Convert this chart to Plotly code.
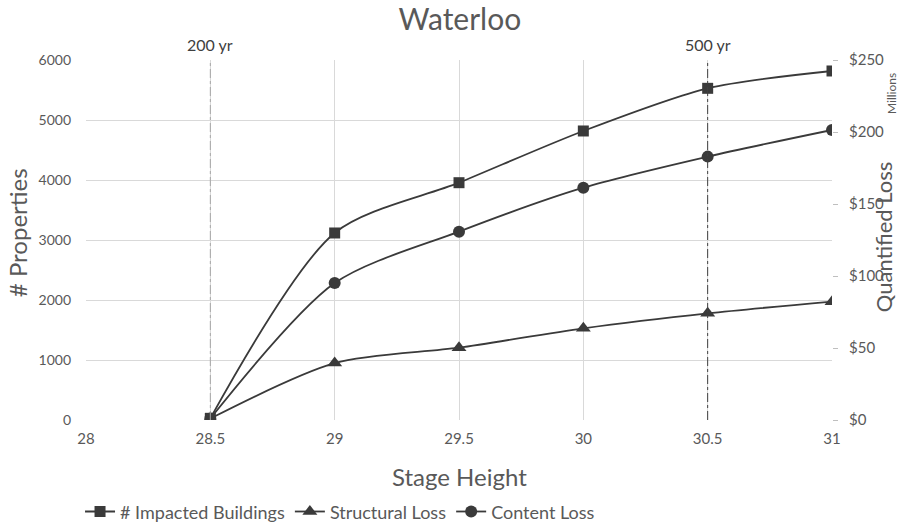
import plotly.graph_objects as go

# Stage height (ft) and modelled impacts
stage = [28.5, 29, 29.5, 30, 30.5, 31]
impacted_buildings = [28, 3117, 3955, 4817, 5528, 5817]
structural_loss = [1, 39.5, 50.2, 63.7, 74.1, 82.2]   # $ millions
content_loss = [1, 95.1, 130.8, 161.3, 182.9, 201.4]  # $ millions

x_ticks = [28, 28.5, 29, 29.5, 30, 30.5, 31]
left_ticks = [0, 1000, 2000, 3000, 4000, 5000, 6000]
right_ticks = [0, 50, 100, 150, 200, 250]
return_periods = [(28.5, "200 yr", "#a6a6a6"), (30.5, "500 yr", "#404040")]

FONT = "Lato, 'Open Sans', sans-serif"
TXT = "#595959"
GRID = "#d9d9d9"
LINE = "#3a3a3a"

fig = go.Figure()

series = [
    ("# Impacted Buildings", impacted_buildings, "square", "y", 11),
    ("Structural Loss", structural_loss, "triangle-up", "y2", 13),
    ("Content Loss", content_loss, "circle", "y2", 12),
]
for name, vals, sym, ax, size in series:
    fig.add_trace(go.Scatter(
        x=stage, y=vals, name=name, yaxis=ax,
        mode="lines+markers",
        line=dict(color=LINE, width=1.8, shape="spline", smoothing=0.8),
        marker=dict(symbol=sym, size=size, color=LINE),
    ))

for xv, label, col in return_periods:
    fig.add_shape(type="line", xref="x", yref="y domain", x0=xv, x1=xv, y0=0, y1=1,
                  line=dict(color=col, width=1, dash="dashdot"))
    fig.add_annotation(x=xv, xref="x", y=1, yref="paper", yshift=16,
                       xanchor="center", yanchor="middle",
                       text=label, showarrow=False,
                       font=dict(family=FONT, size=16, color="#404040"))

axis_titles = [
    ("# Properties", -0.092, 0.52, -90, 24),
    ("Stage Height", 0.5, -0.158, 0, 24),
    ("Quantified Loss", 1.0695, 0.51, -90, 22),
    ("Millions", 1.079, 0.908, -90, 12),
]
for text, ax_x, ax_y, angle, size in axis_titles:
    fig.add_annotation(text=text, xref="paper", yref="paper", x=ax_x, y=ax_y,
                       xanchor="center", yanchor="middle", textangle=angle,
                       showarrow=False, borderpad=0,
                       font=dict(family=FONT, size=size, color=TXT))

fig.update_layout(
    width=900, height=524,
    margin=dict(l=86, r=68, t=60, b=104, autoexpand=False),
    paper_bgcolor="white", plot_bgcolor="white",
    font=dict(family=FONT, size=14, color=TXT),
    title=dict(text="Waterloo", x=0.511, xanchor="center", y=0.962, yanchor="middle",
               font=dict(family=FONT, size=30, color=TXT)),
    xaxis=dict(range=[28, 31], tickvals=x_ticks, ticktext=[f"{v:g}" for v in x_ticks],
               showgrid=True, gridcolor=GRID, gridwidth=1, zeroline=False,
               showline=False, ticks="", ticklabelstandoff=8,
               tickfont=dict(size=15)),
    yaxis=dict(range=[0, 6000], tickvals=left_ticks, showgrid=True, gridcolor=GRID,
               zeroline=False, showline=False, ticks="", ticklabelstandoff=14,
               tickfont=dict(size=14)),
    yaxis2=dict(range=[0, 250], tickvals=right_ticks,
                ticktext=[f"${v}" for v in right_ticks], overlaying="y",
                side="right", showgrid=False, zeroline=False, showline=False,
                ticks="outside", ticklen=5, tickcolor="#bfbfbf", ticklabelstandoff=8,
                tickfont=dict(size=15)),
    legend=dict(orientation="h", x=-0.008, xanchor="left", y=-0.255, yanchor="middle",
                font=dict(family=FONT, size=18, color=TXT), itemwidth=30,
                tracegroupgap=0, bgcolor="rgba(0,0,0,0)"),
    showlegend=True,
)

fig.write_html("out.html")
